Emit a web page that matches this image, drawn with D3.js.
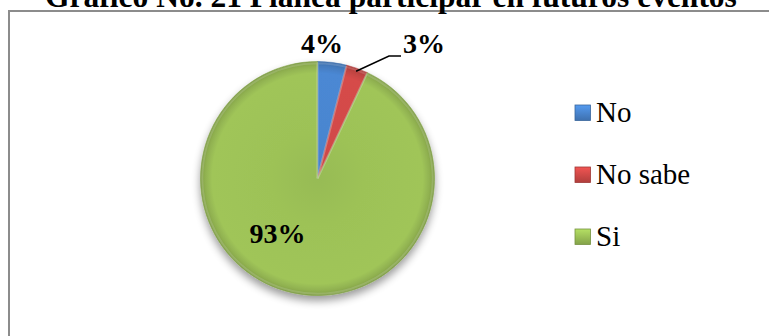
<!DOCTYPE html>
<html>
<head>
<meta charset="utf-8">
<script src="https://cdn.jsdelivr.net/npm/d3@7/dist/d3.min.js"></script>
<style>
  html, body { margin: 0; padding: 0; background: #fff; overflow: hidden; }
  svg { display: block; }
  svg text { font-family: "Liberation Serif", "Times New Roman", Times, serif; }
</style>
</head>
<body>
<svg id="chart" width="769" height="336"></svg>
<script>
// Survey answers and their shares (%)
const categories = ["No", "No sabe", "Si"];
const values = [4, 3, 93];
const baseColors = ["#4a86d0", "#d24a48", "#9dc257"];
const title = "Gráfico No. 21 Planea participar en futuros eventos";

const svg = d3.select("#chart");

// chart frame (runs past the right and bottom edges)
svg.append("rect")
  .attr("x", 9).attr("y", 11)
  .attr("width", 800).attr("height", 400)
  .attr("fill", "#fff")
  .attr("stroke", "#8c8c8c")
  .attr("stroke-width", 2);

// title, partly above the top edge
svg.append("text")
  .attr("x", 391).attr("y", 7)
  .attr("text-anchor", "middle")
  .attr("font-weight", "bold")
  .attr("font-size", 31.5)
  .attr("fill", "#000")
  .text(title);

const cx = 317.5, cy = 178.5, R = 117;

const defs = svg.append("defs");

// soft drop shadow under the pie
const shadow = defs.append("filter").attr("id", "pieShadow")
  .attr("x", "-20%").attr("y", "-20%").attr("width", "140%").attr("height", "140%");
shadow.append("feGaussianBlur").attr("in", "SourceAlpha").attr("stdDeviation", 4).attr("result", "b");
shadow.append("feOffset").attr("in", "b").attr("dx", 0).attr("dy", 5).attr("result", "o");
shadow.append("feComponentTransfer").attr("in", "o").attr("result", "s")
  .append("feFuncA").attr("type", "linear").attr("slope", 0.4);
const merge = shadow.append("feMerge");
merge.append("feMergeNode").attr("in", "s");
merge.append("feMergeNode").attr("in", "SourceGraphic");

// bevel-like radial shading for each slice colour (pie group is centred at 0,0)
baseColors.forEach((c, i) => {
  const g = defs.append("radialGradient")
    .attr("id", "grad" + i)
    .attr("gradientUnits", "userSpaceOnUse")
    .attr("cx", 0).attr("cy", 0).attr("r", R);
  const base = d3.color(c);
  g.append("stop").attr("offset", "0%").attr("stop-color", base.darker(0.1));
  g.append("stop").attr("offset", "40%").attr("stop-color", base);
  g.append("stop").attr("offset", "90%").attr("stop-color", base.brighter(0.05));
  g.append("stop").attr("offset", "96%").attr("stop-color", base.darker(0.25));
  g.append("stop").attr("offset", "100%").attr("stop-color", base.darker(0.6));
});

const pie = d3.pie().sort(null).value(d => d)(values);
const arc = d3.arc().innerRadius(0).outerRadius(R);

const pieG = svg.append("g")
  .attr("transform", `translate(${cx},${cy})`)
  .attr("filter", "url(#pieShadow)");

pieG.selectAll("path.slice")
  .data(pie)
  .join("path")
  .attr("class", "slice")
  .attr("d", arc)
  .attr("fill", (d, i) => `url(#grad${i})`)
  .attr("stroke", (d, i) => d3.color(baseColors[i]).darker(0.5))
  .attr("stroke-width", 0.6)
  .attr("stroke-linejoin", "round");

// faint highlight along the slice edges
pieG.selectAll("path.hl")
  .data(pie)
  .join("path")
  .attr("class", "hl")
  .attr("d", d3.arc().innerRadius(0).outerRadius(R * 0.985))
  .attr("fill", "none")
  .attr("stroke", "#ffffff")
  .attr("stroke-opacity", 0.15)
  .attr("stroke-width", 2);

// data labels
const labelPos = [
  { x: 322, y: 53 },
  { x: 424, y: 53 },
  { x: 277.5, y: 243 }
];
svg.selectAll("text.lbl")
  .data(pie)
  .join("text")
  .attr("class", "lbl")
  .attr("x", (d, i) => labelPos[i].x)
  .attr("y", (d, i) => labelPos[i].y)
  .attr("text-anchor", "middle")
  .attr("font-weight", "bold")
  .attr("font-size", 28)
  .attr("fill", "#000")
  .text(d => d.data + "%");

// leader line for the small "No sabe" slice
const red = pie[1];
const midA = (red.startAngle + red.endAngle) / 2;
const p0 = [cx + Math.sin(midA) * (R - 3), cy - Math.cos(midA) * (R - 3)];
svg.append("polyline")
  .attr("points", [p0, [389, 56], [401, 56]].map(p => p.join(",")).join(" "))
  .attr("fill", "none")
  .attr("stroke", "#000")
  .attr("stroke-width", 1.5);

// legend swatch gradients
baseColors.forEach((c, i) => {
  const g = defs.append("linearGradient").attr("id", "lg" + i)
    .attr("x1", 0).attr("y1", 0).attr("x2", 0).attr("y2", 1);
  g.append("stop").attr("offset", "0%").attr("stop-color", d3.color(c).brighter(0.4));
  g.append("stop").attr("offset", "100%").attr("stop-color", d3.color(c).darker(0.5));
});

// legend
const legend = svg.append("g").attr("transform", "translate(575,105)");
const items = legend.selectAll("g")
  .data(categories)
  .join("g")
  .attr("transform", (d, i) => `translate(0,${i * 62})`);
items.append("rect")
  .attr("width", 15.5).attr("height", 15.5)
  .attr("fill", (d, i) => `url(#lg${i})`)
  .attr("stroke", (d, i) => d3.color(baseColors[i]).darker(0.8))
  .attr("stroke-width", 0.8);
items.append("text")
  .attr("x", 21).attr("y", 16.5)
  .attr("font-size", 29)
  .attr("fill", "#000")
  .text(d => d);
</script>
</body>
</html>
